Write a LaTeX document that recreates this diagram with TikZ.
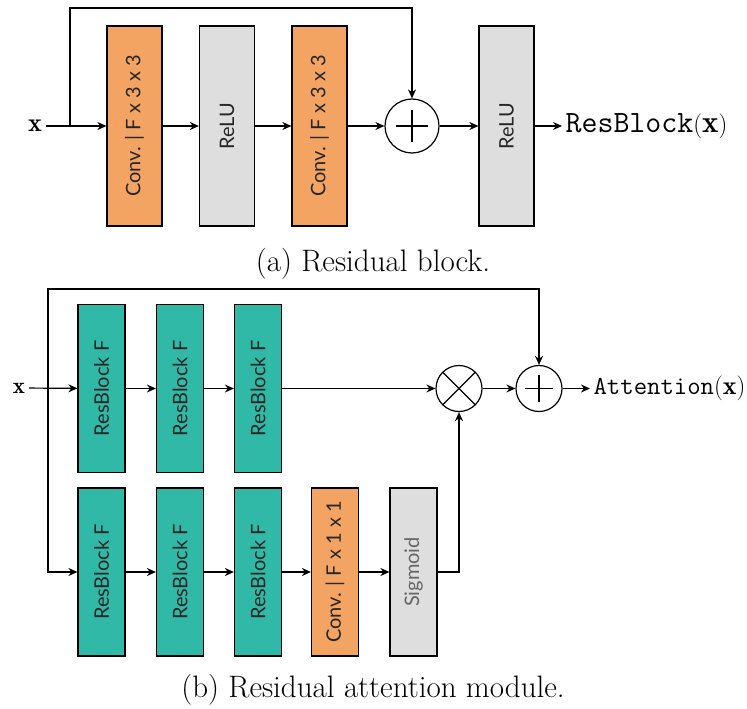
\documentclass[tikz,border=0pt]{standalone}
\usepackage{fontspec}
\usetikzlibrary{arrows.meta,calc}
\newfontfamily\blockfont{Lato}
\definecolor{convorange}{RGB}{243,164,98}
\definecolor{resteal}{RGB}{48,185,167}
\definecolor{actgray}{RGB}{222,222,222}
\tikzset{
  layer/.style={draw, rotate=90, inner sep=0pt, text=black!85,
    font=\blockfont\fontsize{20}{22}\selectfont},
  bigbox/.style={layer, minimum width=200pt, minimum height=55pt},
  smallbox/.style={layer, minimum width=168pt, minimum height=47pt},
  addnode/.style={circle, draw, inner sep=0pt, minimum size=#1,
    path picture={
      \draw ($(path picture bounding box.center)!0.6!(path picture bounding box.west)$)
         -- ($(path picture bounding box.center)!0.6!(path picture bounding box.east)$);
      \draw ($(path picture bounding box.center)!0.6!(path picture bounding box.north)$)
         -- ($(path picture bounding box.center)!0.6!(path picture bounding box.south)$);
    }},
  mulnode/.style={circle, draw, inner sep=0pt, minimum size=#1,
    path picture={
      \draw (path picture bounding box.north west) -- (path picture bounding box.south east);
      \draw (path picture bounding box.south west) -- (path picture bounding box.north east);
    }},
  caption/.style={font=\fontsize{31}{34}\selectfont}
}
\begin{document}
\begin{tikzpicture}[x=1pt, y=-1pt, line width=1.2pt, >={Stealth[length=9pt,width=8pt]}]
  \useasboundingbox (0,0) rectangle (747,709);

  % (a) Residual block
  \node[font=\fontsize{26}{28}\selectfont] (xa) at (35,126) {$\mathbf{x}$};
  \node[bigbox, fill=convorange] (conva) at (134.5,126) {Conv. | F x 3 x 3};
  \node[bigbox, fill=actgray] (relua) at (227,126) {ReLU};
  \node[bigbox, fill=convorange] (convb) at (319.5,126) {Conv. | F x 3 x 3};
  \node[addnode=54pt] (adda) at (412,126) {};
  \node[bigbox, fill=actgray] (relub) at (506.5,126) {ReLU};
  \node[anchor=west, inner sep=3pt, font=\fontsize{31}{33}\selectfont] (outa) at (562,126)
    {$\mathtt{ResBlock}(\mathbf{x})$};
  \coordinate (splita) at (70,126);
  \coordinate (topa) at (70,8);

  \draw[->] (xa) -- (conva);
  \draw[->] (conva) -- (relua);
  \draw[->] (relua) -- (convb);
  \draw[->] (convb) -- (adda);
  \draw[->] (adda) -- (relub);
  \draw[->] (relub) -- (outa);
  \draw[->] (splita) -- (topa) -| (adda);

  \node[caption] (capa) at (373,264) {(a) Residual block.};

  % (b) Residual attention module
  \node[font=\fontsize{23}{25}\selectfont] (xb) at (19,388) {$\mathbf{x}$};
  \foreach \n/\xx in {1/101.5, 2/180, 3/258} {
    \node[smallbox, fill=resteal] (trunk\n) at (\xx,388.5) {ResBlock F};
    \node[smallbox, fill=resteal] (mask\n) at (\xx,572) {ResBlock F};
  }
  \node[smallbox, fill=convorange] (convc) at (335,572) {Conv. | F x 1 x 1};
  \node[smallbox, fill=actgray, text=black!60] (sig) at (413.5,572) {Sigmoid};
  \node[mulnode=46pt] (mulb) at (459,388.5) {};
  \node[addnode=46pt] (addb) at (539,388.5) {};
  \node[anchor=west, inner sep=3pt, font=\fontsize{26}{28}\selectfont] (outb) at (590,388.5)
    {$\mathtt{Attention}(\mathbf{x})$};
  \coordinate (splitb) at (48,388.5);
  \coordinate (topb) at (48,289);

  \draw[->] (xb) -- (trunk1);
  \draw[->] (trunk1) -- (trunk2);
  \draw[->] (trunk2) -- (trunk3);
  \draw[->] (trunk3) -- (mulb);
  \draw[->] (splitb) |- (mask1);
  \draw[->] (mask1) -- (mask2);
  \draw[->] (mask2) -- (mask3);
  \draw[->] (mask3) -- (convc);
  \draw[->] (convc) -- (sig);
  \draw[->] (sig) -| (mulb);
  \draw[->] (mulb) -- (addb);
  \draw[->] (splitb) -- (topb) -| (addb);
  \draw[->] (addb) -- (outb);

  \node[caption] (capb) at (373,690) {(b) Residual attention module.};
\end{tikzpicture}
\end{document}
